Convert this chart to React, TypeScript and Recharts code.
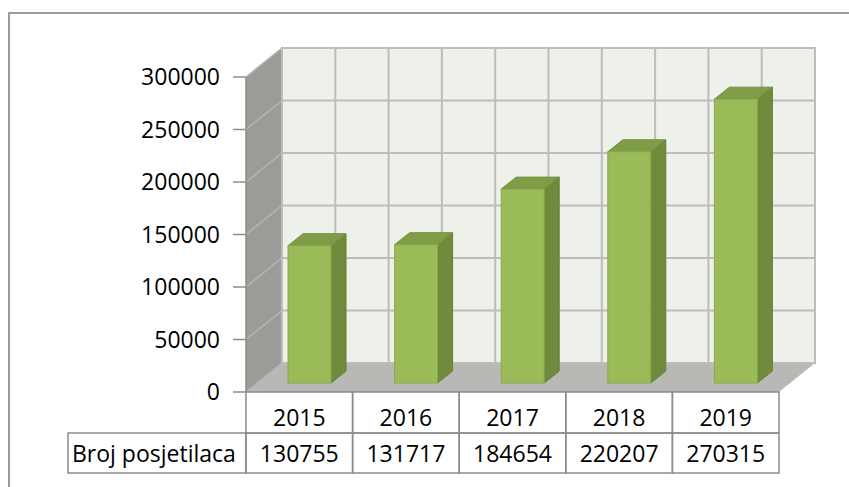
import React from 'react';
import { BarChart, Bar, XAxis, YAxis, ReferenceArea, ReferenceLine } from 'recharts';

const YEARS = ['2015', '2016', '2017', '2018', '2019'];
const VISITORS = [130755, 131717, 184654, 220207, 270315];
const Y_TICKS = [0, 50000, 100000, 150000, 200000, 250000, 300000];
const ROW_LABEL = 'Broj posjetilaca';

const data = YEARS.map((year, i) => ({ year, visitors: VISITORS[i] }));

// layout of the 3d box (front plane = recharts plot area)
const W = 849;
const H = 487;
const PLOT_LEFT = 246;
const PLOT_RIGHT = 779;
const PLOT_TOP = 77;
const PLOT_BOTTOM = 392;
const DEPTH_X = 36;
const DEPTH_Y = 29;
const BAR_SHIFT_X = 10;
const BAR_SHIFT_Y = 9;
const BAR_DX = 15;
const BAR_DY = 12;
const BAND = (PLOT_RIGHT - PLOT_LEFT) / YEARS.length;
const ROW2 = 433;
const ROW3 = 473;
const LABEL_LEFT = 68;
const FONT = '"Open Sans", sans-serif';
const FONT_SIZE = 23;
const LINE = '#8C8C8C';

// back wall, side wall and floor
function Box3D(props: any) {
    const { x, y, width, height } = props;
    const bx = x + DEPTH_X;
    const by = y - DEPTH_Y;
    return (
        <g>
            <polygon
                points={`${x},${y} ${bx},${by} ${bx},${by + height} ${x},${y + height}`}
                fill="#9B9C97"
            />
            <polygon
                points={`${x},${y + height} ${bx},${by + height} ${bx + width},${by + height} ${x + width},${y + height}`}
                fill="#B8B9B4"
            />
            <rect x={bx} y={by} width={width} height={height} fill="#EEF0EA" stroke="#A8A8A8" strokeWidth={2} />
        </g>
    );
}

function HGrid(props: any) {
    const { x1, y1, x2, y2 } = props;
    return (
        <g>
            <line x1={x1} y1={y1} x2={x1 + DEPTH_X} y2={y1 - DEPTH_Y} stroke="#B4B5B0" strokeWidth={1.5} />
            <line
                x1={x1 + DEPTH_X}
                y1={y1 - DEPTH_Y}
                x2={x2 + DEPTH_X}
                y2={y2 - DEPTH_Y}
                stroke="#BDBDBD"
                strokeWidth={2}
            />
        </g>
    );
}

function VGrid(props: any) {
    const { x1, y1, x2, y2 } = props;
    return (
        <line
            x1={x1 + DEPTH_X}
            y1={y1 - DEPTH_Y}
            x2={x2 + DEPTH_X}
            y2={y2 - DEPTH_Y}
            stroke="#BDBDBD"
            strokeWidth={2}
        />
    );
}

function Bar3D(props: any) {
    const { x, y, width, height } = props;
    if (!height) return null;
    const fx = x + BAR_SHIFT_X;
    const fy = y - BAR_SHIFT_Y;
    const rx = fx + width;
    const top = `${fx},${fy} ${fx + BAR_DX},${fy - BAR_DY} ${rx + BAR_DX},${fy - BAR_DY} ${rx},${fy}`;
    const side = `${rx},${fy} ${rx + BAR_DX},${fy - BAR_DY} ${rx + BAR_DX},${fy + height - BAR_DY} ${rx},${fy + height}`;
    return (
        <g>
            <polygon points={side} fill="#6F8B3B" stroke="#65803A" strokeWidth={1} />
            <polygon points={top} fill="#7F9C47" stroke="#748F40" strokeWidth={1} />
            <rect x={fx} y={fy} width={width} height={height} fill="#9BBB59" stroke="#8AA84E" strokeWidth={1} />
        </g>
    );
}

// data table under the plot, one column per category
function TableTick(props: any) {
    const { x, payload, index } = props;
    const left = x - BAND / 2;
    const textStyle = { fontFamily: FONT, fontSize: FONT_SIZE, fill: '#000' };
    return (
        <g>
            <rect x={left} y={PLOT_BOTTOM} width={BAND} height={ROW2 - PLOT_BOTTOM} fill="none" stroke={LINE} strokeWidth={1.5} />
            <rect x={left} y={ROW2} width={BAND} height={ROW3 - ROW2} fill="none" stroke={LINE} strokeWidth={1.5} />
            <text x={x} y={426} textAnchor="middle" {...textStyle}>{payload.value}</text>
            <text x={x} y={462} textAnchor="middle" {...textStyle}>{VISITORS[index]}</text>
            {index === 0 && (
                <g>
                    <rect x={LABEL_LEFT} y={ROW2} width={left - LABEL_LEFT} height={ROW3 - ROW2} fill="none" stroke={LINE} strokeWidth={1.5} />
                    <text x={LABEL_LEFT + 4} y={462} {...textStyle}>{ROW_LABEL}</text>
                </g>
            )}
        </g>
    );
}

const verticals = [
    ...YEARS.flatMap((year) => [
        { year, pos: 'start' },
        { year, pos: 'middle' },
    ]),
    { year: YEARS[YEARS.length - 1], pos: 'end' },
];

export default function App() {
    return (
        <div style={{ position: 'absolute', left: 0, top: 0, width: W, height: H, overflow: 'hidden', background: '#fff' }}>
            <div
                style={{
                    position: 'absolute',
                    left: 8,
                    top: 12,
                    width: 1000,
                    height: 1000,
                    border: '2px solid #9A9A9A',
                }}
            />
            <div style={{ position: 'absolute', left: 0, top: 0 }}>
                <BarChart width={W} height={H} data={data} margin={{ top: PLOT_TOP, right: W - PLOT_RIGHT, bottom: 0, left: 0 }}>
                    <XAxis
                        dataKey="year"
                        height={H - PLOT_BOTTOM}
                        axisLine={false}
                        tickLine={false}
                        tickSize={0}
                        interval={0}
                        tick={(p: any) => <TableTick {...p} />}
                    />
                    <YAxis
                        width={PLOT_LEFT}
                        domain={[0, 300000]}
                        ticks={Y_TICKS}
                        interval={0}
                        tickSize={13}
                        tickMargin={13}
                        axisLine={{ stroke: LINE, strokeWidth: 1.5 }}
                        tickLine={{ stroke: LINE, strokeWidth: 1.5 }}
                        tick={{ fill: '#000', fontSize: FONT_SIZE, fontFamily: FONT }}
                    />
                    <ReferenceArea y1={0} y2={300000} shape={(p: any) => <Box3D {...p} />} zIndex={50} />
                    {Y_TICKS.map((t) => (
                        <ReferenceLine key={`h${t}`} y={t} shape={(p: any) => <HGrid {...p} />} zIndex={60} />
                    ))}
                    {verticals.map((v) => (
                        <ReferenceLine
                            key={`v${v.year}${v.pos}`}
                            x={v.year}
                            position={v.pos as any}
                            shape={(p: any) => <VGrid {...p} />}
                            zIndex={60}
                        />
                    ))}
                    <Bar dataKey="visitors" barSize={43} shape={(p: any) => <Bar3D {...p} />} isAnimationActive={false} />
                </BarChart>
            </div>
        </div>
    );
}
